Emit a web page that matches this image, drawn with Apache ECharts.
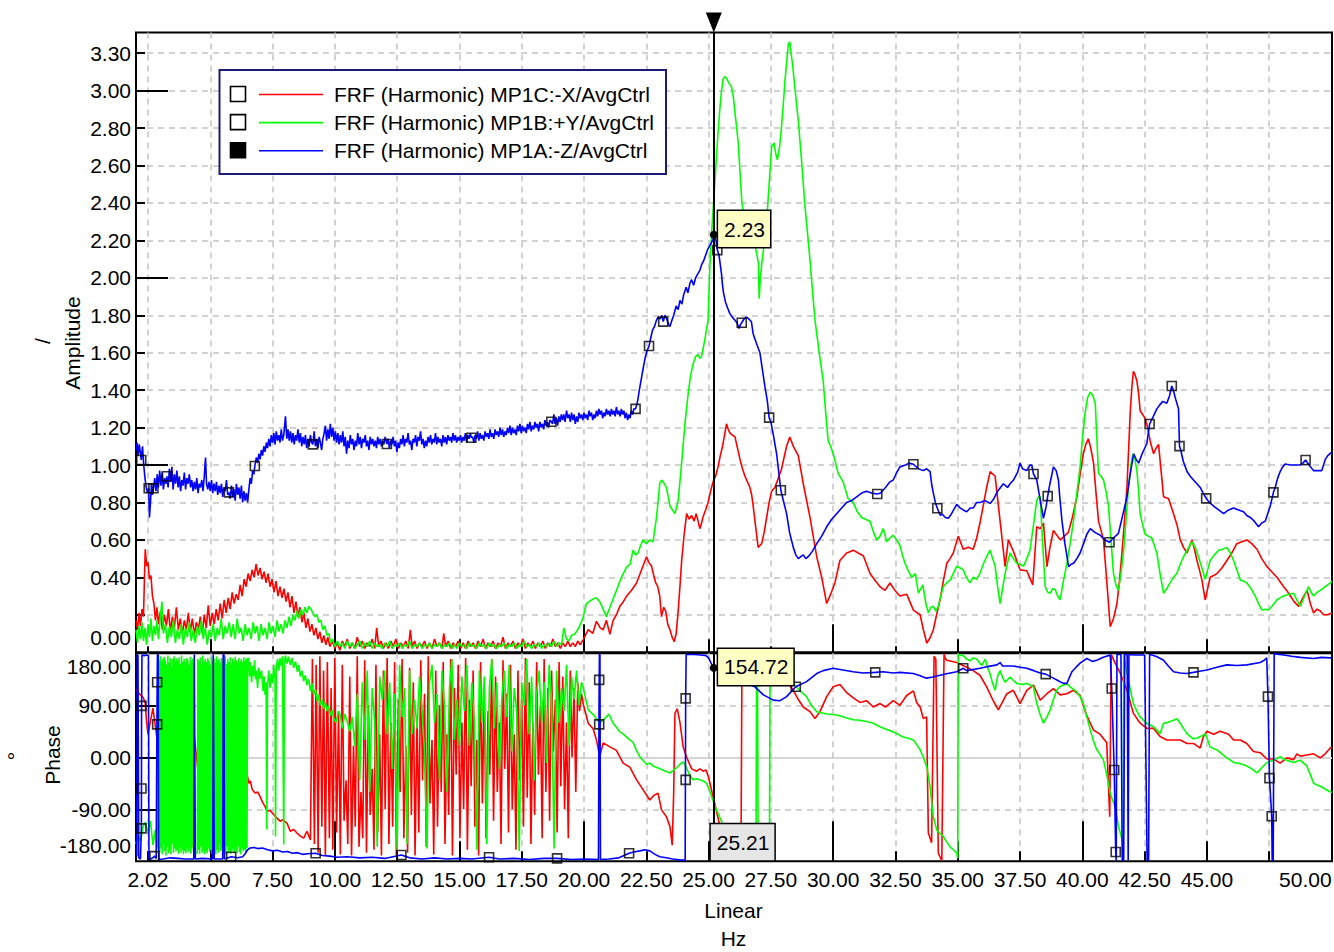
<!DOCTYPE html>
<html><head><meta charset="utf-8">
<script src="https://cdn.jsdelivr.net/npm/echarts@6/dist/echarts.min.js"></script>
<style>html,body{margin:0;padding:0;background:#fff}#c{width:1334px;height:952px}</style>
</head><body><div id="c"></div>
<script>
// ---------------- DATA ----------------
const seriesNames = ['FRF (Harmonic) MP1C:-X/AvgCtrl','FRF (Harmonic) MP1B:+Y/AvgCtrl','FRF (Harmonic) MP1A:-Z/AvgCtrl'];
const seriesColors = ['#ff0000','#00ff00','#0000ff'];

// Amplitude, MP1C (red)  [Hz, amplitude]
const ampMP1C = [[2.02,0.17],[2.08,0.12],[2.14,0.21],[2.2,0.14],[2.26,0.23],[2.32,0.19],[2.39,0.55],[2.45,0.46],[2.5,0.48],[2.56,0.39],[2.62,0.41],[2.68,0.30],[2.74,0.26],[2.8,0.17],[2.86,0.24],[2.92,0.15],[3.0,0.22],[3.08,0.12],[3.16,0.20],[3.24,0.14],[3.32,0.23],[3.4,0.11],[3.48,0.19],[3.56,0.13],[3.64,0.24],[3.72,0.12],[3.8,0.18],[3.88,0.10],[3.96,0.17],[4.04,0.12],[4.12,0.21],[4.2,0.11],[4.28,0.18],[4.36,0.09],[4.44,0.16],[4.52,0.12],[4.6,0.19],[4.68,0.10],[4.76,0.20],[4.84,0.13],[4.92,0.25],[5.0,0.14],[5.08,0.21],[5.16,0.15],[5.24,0.23],[5.32,0.17],[5.4,0.26],[5.48,0.18],[5.56,0.28],[5.64,0.21],[5.72,0.29],[5.8,0.23],[5.88,0.32],[5.96,0.26],[6.04,0.31],[6.12,0.28],[6.2,0.36],[6.28,0.30],[6.36,0.39],[6.44,0.35],[6.52,0.42],[6.6,0.38],[6.68,0.44],[6.76,0.40],[6.84,0.47],[6.92,0.41],[7.0,0.45],[7.08,0.39],[7.16,0.43],[7.24,0.37],[7.32,0.42],[7.4,0.35],[7.48,0.39],[7.56,0.32],[7.64,0.38],[7.72,0.30],[7.8,0.35],[7.88,0.29],[7.96,0.34],[8.04,0.27],[8.12,0.32],[8.2,0.24],[8.28,0.30],[8.36,0.21],[8.44,0.27],[8.52,0.19],[8.6,0.24],[8.68,0.16],[8.76,0.21],[8.84,0.13],[8.92,0.18],[9.0,0.11],[9.08,0.15],[9.16,0.09],[9.24,0.13],[9.32,0.07],[9.4,0.11],[9.48,0.05],[9.56,0.09],[9.64,0.04],[9.72,0.08],[9.8,0.03],[9.9,0.06],[10.0,0.02],[10.1,0.05],[10.2,0.01],[10.3,0.06],[10.4,0.03],[10.5,0.07],[10.6,0.02],[10.7,0.05],[10.8,0.02],[10.9,0.08],[11.0,0.03],[11.1,0.06],[11.2,0.02],[11.3,0.05],[11.4,0.03],[11.5,0.07],[11.6,0.02],[11.68,0.13],[11.76,0.03],[11.85,0.06],[11.95,0.02],[12.05,0.05],[12.15,0.02],[12.25,0.06],[12.35,0.03],[12.45,0.07],[12.55,0.02],[12.65,0.05],[12.75,0.03],[12.85,0.06],[12.95,0.02],[13.03,0.12],[13.1,0.03],[13.2,0.06],[13.3,0.02],[13.4,0.05],[13.5,0.03],[13.6,0.06],[13.7,0.02],[13.8,0.05],[13.9,0.02],[14.0,0.07],[14.1,0.03],[14.2,0.05],[14.3,0.02],[14.37,0.10],[14.45,0.03],[14.55,0.06],[14.65,0.02],[14.75,0.05],[14.85,0.03],[14.95,0.06],[15.05,0.02],[15.15,0.05],[15.25,0.02],[15.35,0.06],[15.45,0.03],[15.55,0.05],[15.65,0.02],[15.75,0.06],[15.85,0.03],[15.95,0.07],[16.05,0.02],[16.15,0.05],[16.25,0.03],[16.35,0.06],[16.45,0.02],[16.55,0.05],[16.65,0.03],[16.75,0.08],[16.85,0.02],[16.95,0.05],[17.05,0.03],[17.15,0.06],[17.25,0.02],[17.35,0.05],[17.45,0.03],[17.55,0.07],[17.65,0.02],[17.75,0.05],[17.85,0.03],[17.95,0.06],[18.05,0.02],[18.15,0.05],[18.25,0.03],[18.35,0.06],[18.45,0.02],[18.55,0.05],[18.65,0.03],[18.75,0.07],[18.85,0.03],[18.95,0.05],[19.05,0.02],[19.15,0.05],[19.25,0.03],[19.35,0.06],[19.45,0.03],[19.55,0.05],[19.65,0.03],[19.75,0.06],[19.85,0.04],[19.96,0.065],[20.17,0.12],[20.35,0.10],[20.5,0.165],[20.65,0.13],[20.77,0.12],[20.9,0.17],[21.04,0.095],[21.17,0.17],[21.3,0.20],[21.44,0.245],[21.58,0.27],[21.71,0.30],[21.9,0.33],[22.11,0.37],[22.31,0.44],[22.51,0.51],[22.6,0.48],[22.71,0.46],[22.8,0.41],[22.88,0.37],[22.96,0.35],[23.04,0.30],[23.11,0.19],[23.2,0.24],[23.28,0.22],[23.36,0.15],[23.45,0.12],[23.54,0.08],[23.62,0.056],[23.7,0.10],[23.78,0.22],[23.85,0.35],[23.92,0.49],[24.02,0.63],[24.12,0.74],[24.22,0.71],[24.32,0.73],[24.42,0.70],[24.5,0.74],[24.58,0.70],[24.65,0.66],[24.72,0.69],[24.77,0.72],[24.88,0.76],[24.98,0.80],[25.08,0.86],[25.18,0.91],[25.28,0.94],[25.38,0.99],[25.47,1.05],[25.56,1.10],[25.64,1.16],[25.72,1.22],[25.79,1.19],[25.86,1.17],[25.96,1.16],[26.06,1.15],[26.16,1.09],[26.26,1.03],[26.36,0.98],[26.46,0.94],[26.56,0.91],[26.66,0.88],[26.73,0.84],[26.79,0.78],[26.89,0.67],[26.99,0.56],[27.06,0.57],[27.13,0.58],[27.23,0.64],[27.33,0.72],[27.43,0.80],[27.53,0.86],[27.66,0.88],[27.8,0.93],[27.93,0.98],[28.03,1.04],[28.13,1.10],[28.26,1.15],[28.4,1.10],[28.6,1.05],[28.8,0.90],[29.07,0.72],[29.34,0.51],[29.54,0.40],[29.74,0.26],[29.9,0.31],[30.07,0.37],[30.27,0.49],[30.54,0.53],[30.81,0.545],[31.0,0.53],[31.21,0.515],[31.48,0.42],[31.7,0.38],[31.88,0.35],[32.08,0.33],[32.28,0.37],[32.48,0.33],[32.68,0.30],[32.95,0.31],[33.22,0.225],[33.49,0.20],[33.62,0.12],[33.76,0.048],[33.9,0.08],[34.02,0.12],[34.15,0.20],[34.29,0.28],[34.42,0.38],[34.56,0.475],[34.69,0.50],[34.82,0.53],[35.02,0.62],[35.22,0.55],[35.42,0.56],[35.62,0.55],[35.76,0.61],[35.89,0.69],[36.02,0.78],[36.16,0.88],[36.3,0.965],[36.5,0.94],[36.6,0.82],[36.7,0.70],[36.8,0.58],[36.9,0.457],[37.03,0.60],[37.23,0.54],[37.5,0.44],[37.77,0.435],[38.01,0.36],[38.17,0.67],[38.31,0.66],[38.44,0.69],[38.58,0.457],[38.7,0.56],[38.84,0.65],[39.11,0.60],[39.28,0.62],[39.44,0.64],[39.6,0.72],[39.78,0.83],[39.91,0.95],[40.04,1.06],[40.14,1.11],[40.24,1.14],[40.34,1.09],[40.45,1.01],[40.55,0.85],[40.65,0.70],[40.85,0.60],[40.98,0.38],[41.12,0.136],[41.25,0.18],[41.39,0.26],[41.49,0.38],[41.59,0.53],[41.69,0.70],[41.79,0.88],[41.85,1.06],[41.92,1.276],[41.99,1.42],[42.05,1.50],[42.12,1.48],[42.19,1.45],[42.26,1.38],[42.32,1.29],[42.42,1.27],[42.52,1.25],[42.62,1.20],[42.72,1.13],[42.86,1.06],[42.96,1.09],[43.06,1.11],[43.16,0.97],[43.26,0.83],[43.46,0.82],[43.66,0.74],[43.8,0.68],[43.93,0.60],[44.06,0.56],[44.2,0.53],[44.4,0.60],[44.5,0.55],[44.6,0.49],[44.7,0.44],[44.8,0.385],[44.93,0.28],[45.03,0.34],[45.13,0.40],[45.27,0.41],[45.4,0.42],[45.6,0.45],[45.8,0.49],[46.0,0.53],[46.2,0.58],[46.4,0.59],[46.6,0.60],[46.8,0.58],[47.01,0.55],[47.2,0.50],[47.41,0.457],[47.6,0.43],[47.81,0.40],[48.08,0.35],[48.2,0.33],[48.35,0.30],[48.5,0.27],[48.68,0.245],[48.85,0.29],[49.02,0.33],[49.15,0.26],[49.28,0.21],[49.42,0.23],[49.55,0.22],[49.68,0.20],[49.82,0.20],[50.02,0.21]];

// Amplitude, MP1B (green)
const ampMP1B = [[2.02,0.12],[2.08,0.05],[2.14,0.14],[2.2,0.07],[2.26,0.16],[2.32,0.06],[2.38,0.13],[2.44,0.04],[2.5,0.15],[2.56,0.08],[2.62,0.18],[2.68,0.06],[2.74,0.14],[2.8,0.09],[2.86,0.17],[2.92,0.07],[3.0,0.19],[3.06,0.27],[3.12,0.10],[3.2,0.15],[3.28,0.05],[3.36,0.14],[3.44,0.08],[3.52,0.17],[3.6,0.05],[3.68,0.12],[3.76,0.07],[3.84,0.15],[3.92,0.04],[4.0,0.13],[4.08,0.08],[4.16,0.16],[4.24,0.06],[4.32,0.12],[4.4,0.05],[4.48,0.14],[4.56,0.09],[4.64,0.17],[4.72,0.07],[4.8,0.13],[4.88,0.04],[4.96,0.12],[5.04,0.08],[5.12,0.15],[5.2,0.06],[5.28,0.13],[5.36,0.09],[5.44,0.18],[5.52,0.07],[5.6,0.14],[5.68,0.10],[5.76,0.16],[5.84,0.08],[5.92,0.15],[6.0,0.07],[6.08,0.18],[6.16,0.10],[6.24,0.13],[6.32,0.06],[6.4,0.15],[6.48,0.09],[6.56,0.13],[6.64,0.07],[6.72,0.16],[6.8,0.10],[6.88,0.14],[6.96,0.06],[7.04,0.15],[7.12,0.09],[7.2,0.13],[7.28,0.07],[7.36,0.16],[7.44,0.10],[7.52,0.14],[7.6,0.08],[7.68,0.17],[7.76,0.11],[7.84,0.15],[7.92,0.10],[8.0,0.17],[8.08,0.13],[8.16,0.19],[8.24,0.14],[8.32,0.20],[8.4,0.17],[8.48,0.22],[8.56,0.18],[8.64,0.23],[8.72,0.20],[8.8,0.24],[8.88,0.21],[8.96,0.245],[9.04,0.23],[9.12,0.21],[9.2,0.19],[9.28,0.20],[9.36,0.16],[9.44,0.17],[9.52,0.12],[9.6,0.14],[9.68,0.09],[9.76,0.10],[9.84,0.05],[9.92,0.07],[10.0,0.03],[10.1,0.06],[10.2,0.03],[10.3,0.05],[10.4,0.02],[10.5,0.06],[10.6,0.03],[10.7,0.05],[10.8,0.02],[10.9,0.04],[11.0,0.06],[11.1,0.02],[11.2,0.05],[11.3,0.03],[11.4,0.06],[11.5,0.02],[11.6,0.05],[11.7,0.03],[11.8,0.04],[11.9,0.02],[12.0,0.05],[12.1,0.03],[12.2,0.06],[12.3,0.02],[12.4,0.04],[12.5,0.03],[12.6,0.05],[12.7,0.02],[12.8,0.04],[12.9,0.03],[13.0,0.06],[13.1,0.02],[13.2,0.04],[13.3,0.03],[13.4,0.05],[13.5,0.02],[13.6,0.04],[13.7,0.03],[13.8,0.05],[13.9,0.02],[14.0,0.04],[14.1,0.03],[14.2,0.05],[14.3,0.02],[14.4,0.04],[14.5,0.03],[14.6,0.05],[14.7,0.02],[14.8,0.04],[14.9,0.02],[15.0,0.05],[15.1,0.03],[15.2,0.04],[15.3,0.02],[15.4,0.05],[15.5,0.03],[15.6,0.04],[15.7,0.02],[15.8,0.05],[15.9,0.03],[16.0,0.04],[16.1,0.02],[16.2,0.05],[16.3,0.03],[16.4,0.04],[16.5,0.02],[16.6,0.04],[16.7,0.03],[16.8,0.05],[16.9,0.02],[17.0,0.04],[17.1,0.03],[17.2,0.05],[17.3,0.02],[17.4,0.04],[17.5,0.03],[17.6,0.06],[17.7,0.03],[17.8,0.04],[17.9,0.02],[18.0,0.04],[18.1,0.03],[18.2,0.05],[18.3,0.02],[18.4,0.04],[18.5,0.03],[18.6,0.05],[18.7,0.03],[18.8,0.06],[18.9,0.03],[19.0,0.05],[19.1,0.04],[19.19,0.13],[19.3,0.07],[19.4,0.06],[19.5,0.09],[19.6,0.095],[19.7,0.11],[19.83,0.14],[19.95,0.18],[20.1,0.26],[20.2,0.27],[20.37,0.285],[20.5,0.29],[20.63,0.27],[20.77,0.23],[20.9,0.19],[21.04,0.24],[21.17,0.285],[21.3,0.33],[21.5,0.40],[21.71,0.455],[21.85,0.47],[21.97,0.545],[22.07,0.52],[22.17,0.53],[22.27,0.57],[22.37,0.60],[22.5,0.58],[22.64,0.60],[22.77,0.59],[22.91,0.72],[23.04,0.90],[23.11,0.92],[23.18,0.91],[23.31,0.88],[23.45,0.78],[23.55,0.76],[23.65,0.74],[23.78,0.81],[23.92,1.01],[24.05,1.22],[24.18,1.38],[24.28,1.48],[24.38,1.54],[24.48,1.58],[24.58,1.59],[24.65,1.57],[24.72,1.58],[24.85,1.67],[24.98,1.775],[25.05,2.06],[25.15,2.30],[25.25,2.505],[25.35,2.72],[25.45,2.90],[25.52,3.00],[25.59,3.065],[25.66,3.075],[25.72,3.065],[25.82,3.04],[25.92,3.02],[26.0,2.96],[26.06,2.88],[26.13,2.80],[26.19,2.72],[26.26,2.57],[26.33,2.415],[26.46,2.27],[26.6,2.16],[26.7,2.20],[26.79,2.24],[26.9,2.15],[27.0,2.08],[27.03,1.89],[27.08,2.0],[27.13,2.07],[27.23,2.18],[27.33,2.30],[27.43,2.50],[27.53,2.70],[27.63,2.72],[27.7,2.66],[27.76,2.63],[27.85,2.70],[27.93,2.81],[28.0,2.93],[28.07,3.06],[28.14,3.16],[28.2,3.25],[28.26,3.26],[28.31,3.20],[28.37,3.14],[28.46,3.02],[28.6,2.84],[28.73,2.63],[28.87,2.38],[28.97,2.24],[29.07,2.095],[29.17,1.93],[29.27,1.775],[29.43,1.61],[29.6,1.45],[29.7,1.28],[29.8,1.13],[29.9,1.10],[30.0,1.06],[30.1,1.01],[30.2,0.955],[30.4,0.91],[30.6,0.82],[30.8,0.80],[30.97,0.75],[31.14,0.72],[31.3,0.71],[31.48,0.70],[31.62,0.64],[31.75,0.60],[31.88,0.62],[32.01,0.66],[32.15,0.59],[32.28,0.61],[32.41,0.625],[32.55,0.60],[32.68,0.57],[32.78,0.52],[32.88,0.475],[33.0,0.44],[33.15,0.40],[33.3,0.42],[33.42,0.315],[33.52,0.34],[33.6,0.36],[33.72,0.26],[33.82,0.21],[33.92,0.24],[34.02,0.245],[34.12,0.22],[34.22,0.245],[34.32,0.30],[34.42,0.35],[34.55,0.37],[34.69,0.385],[34.82,0.42],[34.96,0.46],[35.1,0.45],[35.22,0.44],[35.35,0.40],[35.49,0.37],[35.62,0.40],[35.76,0.39],[35.89,0.42],[36.02,0.47],[36.16,0.51],[36.3,0.545],[36.4,0.50],[36.5,0.46],[36.6,0.35],[36.7,0.26],[36.8,0.34],[36.9,0.42],[37.0,0.48],[37.1,0.53],[37.23,0.50],[37.37,0.475],[37.5,0.47],[37.64,0.46],[37.77,0.50],[37.9,0.545],[38.04,0.68],[38.17,0.81],[38.24,0.83],[38.31,0.83],[38.4,0.60],[38.51,0.35],[38.61,0.32],[38.71,0.315],[38.81,0.34],[38.91,0.335],[39.01,0.30],[39.11,0.28],[39.24,0.38],[39.38,0.475],[39.51,0.58],[39.65,0.706],[39.78,0.85],[39.91,0.99],[40.01,1.15],[40.11,1.276],[40.21,1.36],[40.32,1.39],[40.42,1.37],[40.52,1.33],[40.58,1.15],[40.65,0.955],[40.75,0.94],[40.85,0.92],[40.95,0.86],[41.05,0.78],[41.15,0.60],[41.25,0.42],[41.35,0.36],[41.45,0.33],[41.55,0.42],[41.65,0.53],[41.75,0.70],[41.85,0.88],[41.95,1.00],[42.03,1.06],[42.11,1.03],[42.19,0.97],[42.26,0.86],[42.32,0.74],[42.42,0.68],[42.52,0.63],[42.65,0.62],[42.79,0.61],[42.89,0.57],[42.99,0.53],[43.12,0.42],[43.26,0.315],[43.39,0.34],[43.52,0.37],[43.66,0.40],[43.79,0.42],[43.93,0.47],[44.06,0.51],[44.23,0.55],[44.4,0.59],[44.53,0.56],[44.66,0.51],[44.8,0.45],[44.93,0.39],[45.03,0.44],[45.13,0.49],[45.3,0.52],[45.47,0.545],[45.63,0.55],[45.8,0.56],[45.94,0.53],[46.07,0.49],[46.2,0.44],[46.34,0.385],[46.47,0.38],[46.6,0.37],[46.77,0.34],[46.94,0.30],[47.07,0.26],[47.21,0.225],[47.34,0.23],[47.47,0.225],[47.64,0.25],[47.81,0.28],[47.94,0.29],[48.08,0.30],[48.28,0.31],[48.48,0.315],[48.61,0.28],[48.75,0.245],[48.92,0.30],[49.08,0.35],[49.18,0.32],[49.28,0.30],[49.42,0.32],[49.55,0.33],[49.75,0.35],[49.95,0.37],[50.02,0.38]];

// Amplitude, MP1A (blue)
const ampMP1A = [[2.02,1.08],[2.06,1.12],[2.1,1.05],[2.15,1.11],[2.2,1.06],[2.23,1.027],[2.28,1.10],[2.33,1.00],[2.38,0.93],[2.43,0.88],[2.48,0.85],[2.53,0.876],[2.56,0.72],[2.6,0.80],[2.64,0.90],[2.68,0.84],[2.72,0.876],[2.77,0.93],[2.82,0.86],[2.87,0.95],[2.92,0.88],[2.97,0.97],[3.02,0.89],[3.07,0.96],[3.12,0.87],[3.17,0.93],[3.22,0.90],[3.26,0.94],[3.31,0.88],[3.36,0.98],[3.41,0.91],[3.46,0.99],[3.51,0.87],[3.56,0.95],[3.61,0.90],[3.66,0.97],[3.71,0.88],[3.76,0.94],[3.81,0.86],[3.86,0.92],[3.91,0.89],[3.96,0.96],[4.01,0.87],[4.06,0.93],[4.11,0.90],[4.16,0.95],[4.21,0.88],[4.26,0.92],[4.31,0.86],[4.36,0.91],[4.41,0.87],[4.46,0.93],[4.51,0.85],[4.56,0.90],[4.61,0.88],[4.66,0.92],[4.71,0.86],[4.76,0.94],[4.81,1.04],[4.85,0.90],[4.9,0.87],[4.95,0.91],[5.0,0.86],[5.05,0.92],[5.1,0.85],[5.15,0.90],[5.2,0.86],[5.25,0.91],[5.3,0.84],[5.35,0.89],[5.4,0.85],[5.45,0.90],[5.5,0.83],[5.55,0.88],[5.6,0.86],[5.65,0.92],[5.7,0.84],[5.75,0.854],[5.8,0.82],[5.85,0.89],[5.9,0.83],[5.95,0.87],[6.0,0.81],[6.05,0.90],[6.1,0.84],[6.15,0.88],[6.2,0.82],[6.25,0.89],[6.3,0.80],[6.35,0.86],[6.4,0.81],[6.45,0.85],[6.5,0.80],[6.55,0.87],[6.6,0.93],[6.65,0.90],[6.7,0.97],[6.75,0.95],[6.79,0.995],[6.85,1.04],[6.9,1.01],[6.95,1.06],[7.0,1.03],[7.05,1.08],[7.1,1.05],[7.15,1.10],[7.2,1.07],[7.25,1.12],[7.3,1.09],[7.35,1.14],[7.4,1.10],[7.45,1.16],[7.5,1.12],[7.55,1.17],[7.6,1.11],[7.65,1.18],[7.7,1.13],[7.75,1.16],[7.8,1.12],[7.85,1.19],[7.9,1.13],[7.95,1.16],[8.02,1.26],[8.07,1.14],[8.12,1.19],[8.17,1.13],[8.22,1.18],[8.27,1.12],[8.32,1.17],[8.37,1.11],[8.42,1.16],[8.47,1.13],[8.52,1.19],[8.57,1.12],[8.62,1.17],[8.67,1.10],[8.72,1.15],[8.77,1.11],[8.82,1.16],[8.87,1.09],[8.92,1.14],[8.97,1.10],[9.02,1.16],[9.07,1.12],[9.12,1.11],[9.17,1.18],[9.22,1.10],[9.27,1.14],[9.32,1.09],[9.37,1.15],[9.42,1.12],[9.47,1.08],[9.52,1.14],[9.57,1.17],[9.62,1.21],[9.67,1.13],[9.72,1.19],[9.77,1.14],[9.82,1.22],[9.87,1.15],[9.92,1.20],[9.97,1.13],[10.02,1.18],[10.07,1.12],[10.12,1.17],[10.17,1.11],[10.22,1.16],[10.27,1.12],[10.32,1.18],[10.37,1.10],[10.42,1.15],[10.47,1.06],[10.52,1.13],[10.57,1.09],[10.62,1.16],[10.67,1.11],[10.72,1.14],[10.77,1.08],[10.82,1.13],[10.87,1.10],[10.92,1.17],[10.97,1.11],[11.02,1.15],[11.07,1.09],[11.12,1.14],[11.17,1.12],[11.22,1.16],[11.27,1.10],[11.32,1.13],[11.37,1.08],[11.42,1.15],[11.47,1.11],[11.52,1.14],[11.57,1.10],[11.62,1.13],[11.67,1.09],[11.72,1.15],[11.77,1.11],[11.82,1.14],[11.87,1.10],[11.92,1.13],[11.97,1.11],[12.02,1.15],[12.09,1.112],[12.14,1.14],[12.19,1.09],[12.24,1.13],[12.29,1.11],[12.34,1.15],[12.39,1.10],[12.44,1.13],[12.49,1.07],[12.54,1.12],[12.59,1.09],[12.64,1.14],[12.69,1.11],[12.74,1.16],[12.79,1.10],[12.84,1.14],[12.89,1.12],[12.94,1.17],[12.99,1.11],[13.04,1.13],[13.09,1.08],[13.14,1.14],[13.19,1.12],[13.24,1.16],[13.29,1.10],[13.34,1.15],[13.39,1.13],[13.44,1.18],[13.49,1.11],[13.54,1.14],[13.59,1.09],[13.64,1.13],[13.69,1.10],[13.74,1.15],[13.79,1.12],[13.84,1.16],[13.89,1.11],[13.94,1.14],[13.99,1.12],[14.04,1.17],[14.09,1.11],[14.14,1.15],[14.19,1.12],[14.24,1.14],[14.29,1.10],[14.34,1.16],[14.39,1.12],[14.44,1.15],[14.49,1.11],[14.54,1.16],[14.59,1.13],[14.64,1.15],[14.69,1.12],[14.74,1.17],[14.79,1.13],[14.84,1.16],[14.89,1.12],[14.94,1.15],[14.99,1.13],[15.04,1.16],[15.09,1.12],[15.14,1.15],[15.19,1.13],[15.24,1.17],[15.29,1.12],[15.34,1.16],[15.39,1.14],[15.44,1.17],[15.48,1.146],[15.53,1.15],[15.58,1.12],[15.63,1.16],[15.68,1.14],[15.73,1.18],[15.78,1.13],[15.83,1.17],[15.88,1.14],[15.93,1.16],[15.98,1.13],[16.03,1.18],[16.08,1.15],[16.13,1.17],[16.18,1.14],[16.23,1.19],[16.28,1.15],[16.33,1.17],[16.38,1.14],[16.43,1.19],[16.48,1.16],[16.53,1.18],[16.58,1.15],[16.63,1.20],[16.68,1.16],[16.73,1.19],[16.78,1.15],[16.83,1.18],[16.88,1.16],[16.93,1.20],[16.98,1.17],[17.03,1.21],[17.08,1.16],[17.13,1.20],[17.18,1.17],[17.23,1.19],[17.28,1.16],[17.33,1.21],[17.38,1.18],[17.43,1.22],[17.48,1.17],[17.53,1.21],[17.58,1.18],[17.63,1.20],[17.68,1.17],[17.73,1.22],[17.78,1.19],[17.83,1.23],[17.88,1.18],[17.93,1.21],[17.98,1.19],[18.03,1.23],[18.08,1.20],[18.13,1.22],[18.18,1.18],[18.23,1.23],[18.28,1.20],[18.33,1.22],[18.38,1.19],[18.43,1.24],[18.48,1.21],[18.53,1.23],[18.58,1.20],[18.63,1.24],[18.69,1.231],[18.74,1.22],[18.79,1.27],[18.84,1.22],[18.89,1.25],[18.94,1.21],[18.99,1.26],[19.04,1.23],[19.09,1.27],[19.14,1.24],[19.19,1.27],[19.24,1.23],[19.3,1.29],[19.35,1.25],[19.4,1.27],[19.45,1.23],[19.5,1.28],[19.55,1.24],[19.6,1.27],[19.65,1.22],[19.7,1.26],[19.75,1.23],[19.8,1.28],[19.85,1.25],[19.9,1.27],[19.95,1.24],[20.0,1.28],[20.05,1.25],[20.1,1.27],[20.15,1.24],[20.2,1.29],[20.25,1.26],[20.3,1.28],[20.35,1.24],[20.4,1.27],[20.45,1.25],[20.5,1.29],[20.55,1.26],[20.6,1.30],[20.65,1.27],[20.7,1.29],[20.75,1.25],[20.8,1.28],[20.85,1.26],[20.9,1.30],[20.95,1.27],[21.0,1.29],[21.05,1.26],[21.1,1.30],[21.15,1.27],[21.2,1.29],[21.25,1.26],[21.3,1.31],[21.35,1.27],[21.4,1.29],[21.45,1.26],[21.5,1.30],[21.55,1.27],[21.6,1.29],[21.65,1.25],[21.7,1.28],[21.75,1.24],[21.8,1.27],[21.85,1.25],[21.9,1.29],[21.95,1.27],[22.0,1.30],[22.07,1.30],[22.15,1.34],[22.22,1.40],[22.3,1.46],[22.38,1.52],[22.45,1.57],[22.53,1.61],[22.61,1.636],[22.68,1.68],[22.75,1.72],[22.83,1.74],[22.9,1.77],[22.97,1.79],[23.05,1.78],[23.12,1.80],[23.18,1.766],[23.25,1.80],[23.32,1.78],[23.4,1.75],[23.45,1.74],[23.52,1.77],[23.6,1.80],[23.7,1.85],[23.78,1.83],[23.85,1.88],[23.93,1.86],[24.0,1.91],[24.1,1.95],[24.17,1.92],[24.25,1.97],[24.32,1.99],[24.4,1.96],[24.48,2.00],[24.56,2.02],[24.65,2.04],[24.72,2.07],[24.8,2.09],[24.88,2.12],[24.96,2.15],[25.04,2.17],[25.12,2.19],[25.2,2.21],[25.25,2.22],[25.3,2.20],[25.35,2.148],[25.42,2.12],[25.48,2.06],[25.52,2.02],[25.56,1.96],[25.6,1.92],[25.68,1.87],[25.76,1.84],[25.85,1.81],[25.95,1.79],[26.05,1.775],[26.14,1.76],[26.22,1.73],[26.28,1.75],[26.33,1.76],[26.42,1.78],[26.52,1.79],[26.62,1.78],[26.72,1.765],[26.79,1.70],[26.92,1.65],[27.06,1.60],[27.16,1.51],[27.26,1.42],[27.36,1.34],[27.43,1.253],[27.5,1.23],[27.6,1.16],[27.73,1.06],[27.9,0.865],[28.02,0.80],[28.13,0.74],[28.25,0.64],[28.4,0.56],[28.5,0.52],[28.6,0.50],[28.7,0.51],[28.8,0.52],[28.9,0.50],[29.0,0.51],[29.17,0.54],[29.34,0.58],[29.54,0.62],[29.74,0.67],[29.94,0.71],[30.14,0.74],[30.34,0.77],[30.54,0.80],[30.74,0.81],[30.94,0.83],[31.14,0.85],[31.34,0.86],[31.54,0.85],[31.77,0.845],[31.9,0.85],[32.1,0.88],[32.28,0.91],[32.41,0.92],[32.55,0.96],[32.68,0.99],[32.9,1.00],[33.05,1.01],[33.22,1.004],[33.42,0.98],[33.62,0.97],[33.75,0.98],[33.89,0.965],[33.95,0.90],[34.02,0.85],[34.1,0.80],[34.18,0.769],[34.3,0.73],[34.36,0.74],[34.5,0.72],[34.62,0.715],[34.75,0.74],[34.96,0.79],[35.1,0.77],[35.22,0.76],[35.36,0.75],[35.5,0.77],[35.62,0.77],[35.76,0.80],[35.9,0.80],[36.1,0.81],[36.3,0.795],[36.45,0.82],[36.6,0.86],[36.83,0.90],[37.0,0.88],[37.1,0.90],[37.24,0.92],[37.4,0.96],[37.5,1.01],[37.6,0.98],[37.77,0.97],[37.9,1.00],[37.97,1.00],[38.04,0.952],[38.17,0.92],[38.3,0.82],[38.44,0.715],[38.55,0.78],[38.61,0.834],[38.7,0.90],[38.84,0.99],[38.95,0.97],[39.04,0.92],[39.1,0.82],[39.18,0.706],[39.3,0.58],[39.45,0.457],[39.55,0.47],[39.65,0.475],[39.78,0.50],[39.91,0.53],[40.05,0.58],[40.18,0.63],[40.32,0.66],[40.5,0.64],[40.72,0.625],[40.9,0.60],[41.09,0.587],[41.25,0.61],[41.45,0.635],[41.6,0.72],[41.79,0.83],[41.92,0.95],[42.06,1.06],[42.16,1.03],[42.26,1.01],[42.4,1.06],[42.59,1.115],[42.7,1.219],[42.85,1.26],[42.99,1.30],[43.1,1.32],[43.23,1.34],[43.39,1.33],[43.5,1.37],[43.59,1.422],[43.65,1.40],[43.75,1.35],[43.86,1.30],[43.9,1.101],[43.95,1.08],[44.05,1.02],[44.2,0.965],[44.33,0.94],[44.46,0.92],[44.6,0.90],[44.73,0.88],[44.85,0.85],[44.97,0.822],[45.1,0.80],[45.27,0.78],[45.47,0.76],[45.67,0.74],[45.87,0.76],[46.07,0.77],[46.27,0.76],[46.47,0.75],[46.6,0.73],[46.74,0.72],[46.9,0.70],[47.07,0.67],[47.2,0.69],[47.34,0.70],[47.44,0.74],[47.54,0.78],[47.67,0.854],[47.74,0.88],[47.84,0.93],[47.94,0.965],[48.04,0.99],[48.14,1.005],[48.34,1.00],[48.54,1.00],[48.74,1.00],[48.85,1.01],[48.96,1.027],[49.1,1.00],[49.28,0.97],[49.45,0.97],[49.61,0.97],[49.75,1.03],[49.85,1.05],[50.02,1.07]];

// Data-point markers of the MP1A trace
const markAmpMP1A = [[2.23,1.027],[2.53,0.876],[2.72,0.876],[3.26,0.94],[5.75,0.854],[6.79,0.995],[9.12,1.11],[12.09,1.112],[15.48,1.146],[18.69,1.231],[22.07,1.30],[22.61,1.636],[23.18,1.766],[25.35,2.148],[26.33,1.76],[27.43,1.253],[27.9,0.865],[31.77,0.845],[33.22,1.004],[34.18,0.769],[38.04,0.952],[38.61,0.834],[41.09,0.587],[42.7,1.219],[43.59,1.422],[43.9,1.101],[44.97,0.822],[47.67,0.854],[48.96,1.027]];

// Phase, MP1C (red)  [Hz, degrees]
const phaseMP1C = [[2.02,118],[2.1,112],[2.2,108],[2.3,104],[2.39,95],[2.44,63],[2.5,40],[2.7,85],[2.9,20],[3.1,70],[3.3,-10],[3.5,55],[3.7,5],[3.9,80],[4.1,30],[4.3,60],[4.5,-20],[4.7,40],[4.9,10],[5.1,70],[5.3,-10],[5.5,50],[5.7,20],[5.9,60],[6.1,0],[6.3,-20],[6.47,-27],[6.55,-45],[6.61,-41],[6.68,-55],[6.74,-59],[6.82,-62],[6.9,-60],[7.01,-69],[7.1,-78],[7.2,-85],[7.27,-93],[7.4,-92],[7.54,-99],[7.65,-104],[7.81,-111],[7.9,-108],[8.08,-114],[8.21,-128],[8.35,-125],[8.48,-131],[8.6,-136],[8.75,-140],[8.88,-128],[9.02,-143],[9.10,170],[9.18,-150],[9.25,160],[9.33,-165],[9.40,175],[9.48,-120],[9.55,150],[9.62,-170],[9.70,165],[9.78,-140],[9.85,120],[9.92,-160],[10.00,172],[10.07,-130],[10.15,80],[10.22,-168],[10.30,160],[10.37,-110],[10.45,-40],[10.52,-150],[10.60,140],[10.67,-170],[10.75,20],[10.82,-120],[10.90,175],[10.97,-155],[11.05,-60],[11.12,-140],[11.20,168],[11.27,-165],[11.35,90],[11.42,-100],[11.50,-20],[11.57,-160],[11.65,160],[11.72,-130],[11.80,40],[11.87,-170],[11.95,150],[12.02,-90],[12.10,172],[12.17,-150],[12.25,60],[12.32,-120],[12.40,165],[12.47,-172],[12.55,100],[12.62,-60],[12.70,170],[12.77,-140],[12.85,20],[12.92,-165],[13.00,155],[13.07,-100],[13.15,130],[13.22,-170],[13.30,70],[13.37,-130],[13.45,168],[13.52,-40],[13.60,110],[13.67,-155],[13.75,175],[13.82,-80],[13.90,30],[13.97,-168],[14.05,150],[14.12,-120],[14.20,90],[14.27,-60],[14.35,165],[14.42,-150],[14.50,40],[14.57,-100],[14.65,170],[14.72,-170],[14.80,120],[14.87,-30],[14.95,160],[15.02,-140],[15.10,60],[15.17,-90],[15.25,172],[15.32,-160],[15.40,100],[15.47,-50],[15.55,150],[15.62,-120],[15.70,30],[15.77,-170],[15.85,165],[15.92,-80],[16.00,120],[16.07,-140],[16.15,80],[16.22,-30],[16.30,170],[16.37,-110],[16.45,140],[16.52,-60],[16.60,60],[16.67,-150],[16.75,168],[16.82,-20],[16.90,110],[16.97,-130],[17.05,160],[17.12,-90],[17.20,40],[17.27,-160],[17.35,150],[17.42,-40],[17.50,100],[17.57,-120],[17.65,172],[17.72,-70],[17.80,130],[17.87,-150],[17.95,60],[18.02,-100],[18.10,165],[18.17,-30],[18.25,90],[18.32,-140],[18.40,170],[18.47,-60],[18.55,120],[18.62,-110],[18.70,150],[18.77,10],[18.85,100],[18.92,-130],[19.00,165],[19.07,-50],[19.15,140],[19.22,-90],[19.30,60],[19.37,-140],[19.45,150],[19.52,0],[19.60,120],[19.67,-60],[19.75,130],[19.82,80],[19.90,110],[19.96,94],[20.17,59],[20.37,49],[20.5,30],[20.63,1],[20.77,25],[21.04,18],[21.3,12],[21.57,-10],[21.84,-17],[22.11,-39],[22.37,-56],[22.64,-74],[22.8,-66],[22.97,-62],[23.11,-91],[23.31,-103],[23.45,-120],[23.54,-152],[23.6,-60],[23.65,76],[23.74,84],[23.85,61],[23.98,18],[24.12,0],[24.32,-20],[24.52,-24],[24.65,-20],[24.78,-24],[24.9,-22],[25.0,-35],[25.12,-57],[25.3,-90],[25.5,-128],[25.8,-158],[26.1,-174],[26.3,-179],[26.34,178],[26.8,165],[27.3,152],[27.8,140],[28.2,128],[28.4,116],[28.6,100],[28.8,87],[29.07,79],[29.27,67],[29.47,79],[29.74,105],[30.0,122],[30.27,126],[30.54,112],[30.81,103],[31.07,95],[31.34,98],[31.61,87],[31.88,93],[32.1,87],[32.41,98],[32.68,90],[32.95,107],[33.22,115],[33.35,95],[33.49,87],[33.62,67],[33.75,70],[33.82,-131],[33.95,-148],[34.05,175],[34.12,170],[34.22,-166],[34.36,-179],[34.45,179],[34.49,172],[34.56,168],[34.96,164],[35.36,156],[35.62,150],[35.89,142],[36.16,122],[36.4,100],[36.63,82],[36.97,110],[37.23,116],[37.5,93],[37.77,116],[38.04,125],[38.31,99],[38.58,110],[38.84,119],[39.11,108],[39.38,110],[39.64,116],[39.91,107],[40.18,72],[40.45,47],[40.71,40],[40.98,25],[41.1,-103],[41.16,178],[41.35,160],[41.52,146],[41.79,116],[42.05,76],[42.32,59],[42.59,50],[42.86,50],[43.12,36],[43.39,30],[43.66,30],[43.93,30],[44.2,24],[44.46,24],[44.73,16],[44.86,36],[45.0,45],[45.27,40],[45.53,45],[45.87,40],[46.07,30],[46.34,30],[46.6,24],[46.87,10],[47.14,8],[47.41,-3],[47.67,-3],[47.94,-10],[48.21,-1],[48.48,-4],[48.61,6],[48.75,2],[49.01,4],[49.28,6],[49.55,-1],[49.75,6],[49.95,16],[50.02,18]];

// Phase, MP1B (green)
const phaseMP1B = [[2.02,-150],[2.1,-135],[2.2,-145],[2.3,-120],[2.4,-112],[2.5,-132],[2.6,-110],[2.7,-152],[2.8,-125],[2.86,-158],
[2.900,172],[2.925,-160],[2.950,168],[2.975,-165],[3.000,175],[3.025,-158],[3.050,165],[3.075,-168],[3.100,170],[3.125,-150],[3.150,174],[3.175,-162],[3.200,168],[3.225,-170],[3.250,160],[3.275,-155],[3.300,176],[3.325,-166],[3.350,164],[3.375,-160],[3.400,172],[3.425,-168],[3.450,158],[3.475,-150],[3.500,170],[3.525,-165],[3.550,175],[3.575,-158],[3.600,166],[3.625,-163],[3.650,171],[3.675,-160],[3.700,167],[3.725,-167],[3.750,173],[3.775,-155],[3.800,162],[3.825,-165],[3.850,176],[3.875,-160],[3.900,166],[3.925,-168],[3.950,170],[3.975,-162],[4.000,165],[4.025,-166],[4.050,172],[4.075,-158],[4.100,168],[4.125,-164],[4.150,160],[4.175,-160],[4.200,174],[4.225,-167],[4.250,166],[4.275,-156],[4.300,171],[4.325,-163],[4.350,163],[4.375,-168],[4.480,-165],[4.500,170],[4.525,-160],[4.550,168],[4.575,-167],[4.600,173],[4.625,-155],[4.650,162],[4.675,-165],[4.700,176],[4.725,-160],[4.750,166],[4.775,-168],[4.800,170],[4.825,-162],[4.850,165],[4.875,-166],[4.900,172],[4.925,-158],[4.950,168],[4.975,-164],[5.000,160],[5.025,-160],[5.050,174],[5.075,-167],[5.100,166],[5.125,-156],[5.150,171],[5.175,-163],[5.200,163],[5.225,-168],[5.250,175],[5.275,-160],[5.300,167],[5.325,-165],[5.350,170],[5.375,-150],[5.400,164],[5.425,-162],[5.450,172],[5.475,-158],[5.500,170],[5.525,-165],[5.550,168],[5.575,-160],[5.600,175],[5.625,-168],[5.650,162],[5.675,-155],[5.700,170],[5.725,-166],[5.750,165],[5.775,-160],[5.800,173],[5.825,-167],[5.850,160],[5.875,-162],[5.900,171],[5.925,-158],[5.950,166],[5.975,-165],[6.000,174],[6.025,-160],[6.050,168],[6.075,-166],[6.100,163],[6.125,-155],[6.150,172],[6.175,-164],[6.200,167],[6.225,-168],[6.250,170],[6.275,-158],[6.300,165],[6.325,-163],[6.350,173],[6.375,-160],[6.400,168],[6.425,-166],[6.450,171],[6.475,-157],[6.500,170],
[6.54,172],[6.58,140],[6.61,165],[6.66,130],[6.7,158],[6.74,141],[6.78,168],[6.82,135],[6.85,150],[6.9,120],[6.95,155],[7.01,136],[7.06,150],[7.12,115],[7.16,140],[7.2,108],[7.24,130],[7.27,-125],[7.3,125],[7.35,150],[7.4,120],[7.45,145],[7.5,128],[7.55,160],[7.6,135],[7.62,-137],[7.65,155],[7.7,170],[7.75,150],[7.8,172],[7.85,158],[7.9,175],[7.95,-151],[7.98,165],[8.02,176],[8.08,162],[8.14,174],[8.21,160],[8.28,172],[8.35,155],[8.42,166],[8.5,148],[8.56,160],[8.61,140],[8.68,150],[8.75,132],[8.82,142],[8.88,125],[8.95,135],[9.02,115],[9.08,128],[9.15,108],[9.22,118],[9.3,96],[9.36,108],[9.42,90],[9.5,100],[9.55,84],[9.62,95],[9.68,80],[9.75,90],[9.82,72],[9.9,82],[9.95,68],[10.05,60],[10.15,80],[10.22,72],[10.3,50],[10.4,75],[10.49,63],[10.6,45],[10.7,70],[10.8,20],[10.9,110],[11.0,-40],[11.1,130],[11.2,30],[11.3,150],[11.4,-60],[11.5,120],[11.6,60],[11.7,-155],[11.8,140],[11.9,100],[12.0,150],[12.1,40],[12.2,130],[12.3,-20],[12.4,110],[12.5,-160],[12.6,160],[12.7,70],[12.8,120],[12.9,-150],[13.0,150],[13.1,40],[13.2,100],[13.3,50],[13.4,140],[13.5,80],[13.6,10],[13.7,-158],[13.8,130],[13.9,160],[14.0,60],[14.1,110],[14.2,-40],[14.3,150],[14.4,90],[14.5,-60],[14.6,120],[14.7,170],[14.8,30],[14.9,100],[15.0,20],[15.1,140],[15.2,80],[15.3,160],[15.4,20],[15.5,130],[15.6,60],[15.7,-160],[15.8,150],[15.9,60],[16.0,140],[16.1,-150],[16.2,120],[16.3,170],[16.4,50],[16.5,130],[16.6,-20],[16.7,100],[16.8,150],[16.9,70],[17.0,160],[17.1,10],[17.2,120],[17.3,80],[17.4,-162],[17.5,130],[17.6,90],[17.7,170],[17.8,40],[17.9,140],[18.0,-40],[18.1,110],[18.2,150],[18.3,60],[18.4,130],[18.5,-10],[18.6,160],[18.7,100],[18.8,-158],[18.9,150],[19.0,60],[19.1,120],[19.2,80],[19.3,160],[19.4,20],[19.5,140],[19.6,100],[19.7,150],[19.8,90],[19.9,130],[19.96,122],[20.17,82],[20.37,74],[20.63,59],[20.9,70],[21.0,75],[21.17,59],[21.3,52],[21.44,44],[21.58,40],[21.71,35],[21.84,30],[21.97,26],[22.1,12],[22.24,1],[22.38,-6],[22.51,-12],[22.64,-10],[22.77,-15],[22.95,-18],[23.11,-21],[23.28,-24],[23.45,-27],[23.6,-22],[23.72,-18],[23.85,-12],[23.98,-8],[24.08,-15],[24.18,-25],[24.28,-33],[24.38,-39],[24.52,-37],[24.65,-39],[24.78,-41],[24.92,-45],[25.02,-55],[25.12,-68],[25.22,-80],[25.32,-91],[25.42,-101],[25.52,-111],[25.7,-135],[26.0,-155],[26.4,-166],[26.9,-174],[26.93,178],[26.96,177],[26.99,-178],[27.2,-177],[27.44,-178],[27.47,179],[27.8,162],[28.1,146],[28.4,128],[28.65,116],[28.93,105],[29.1,92],[29.34,79],[29.74,75],[30.0,74],[30.27,72],[30.54,68],[30.81,65],[31.07,64],[31.34,62],[31.61,59],[31.88,53],[32.15,48],[32.41,44],[32.61,40],[32.81,35],[33.01,33],[33.22,30],[33.35,22],[33.49,13],[33.62,0],[33.76,-17],[33.89,-51],[33.96,-80],[34.02,-103],[34.16,-126],[34.3,-132],[34.42,-137],[34.55,-146],[34.69,-155],[34.82,-160],[34.96,-166],[35.0,-175],[35.02,178],[35.22,176],[35.36,170],[35.49,167],[35.62,172],[35.76,170],[35.96,159],[36.1,170],[36.2,155],[36.3,144],[36.4,128],[36.5,116],[36.6,140],[36.7,150],[36.8,138],[36.9,130],[37.1,139],[37.25,132],[37.37,128],[37.6,126],[37.77,128],[38.04,122],[38.17,93],[38.3,75],[38.44,59],[38.58,70],[38.71,82],[38.84,100],[38.97,116],[39.1,122],[39.24,125],[39.38,127],[39.51,122],[39.64,118],[39.78,113],[39.91,105],[40.04,93],[40.18,70],[40.32,47],[40.45,28],[40.58,13],[40.71,5],[40.85,-5],[40.98,-30],[41.12,-62],[41.22,-75],[41.32,-85],[41.45,-120],[41.55,-135],[41.6,-143],[41.64,-150],[41.66,178],[41.75,155],[41.85,134],[41.95,112],[42.05,93],[42.19,80],[42.32,70],[42.45,64],[42.59,59],[42.72,56],[42.86,53],[42.99,47],[43.12,41],[43.26,59],[43.39,60],[43.52,62],[43.66,64],[43.79,67],[43.93,59],[44.06,50],[44.2,41],[44.33,36],[44.46,32],[44.6,33],[44.73,36],[44.86,38],[44.93,41],[45.03,30],[45.13,18],[45.27,15],[45.4,13],[45.6,6],[45.8,-1],[45.94,-5],[46.07,-9],[46.2,-10],[46.34,-11],[46.47,-13],[46.6,-15],[46.8,-20],[47.01,-27],[47.2,-18],[47.41,-9],[47.54,-7],[47.67,-5],[47.81,-2],[47.94,1],[48.07,-3],[48.2,-5],[48.34,-7],[48.48,-9],[48.61,-7],[48.75,-5],[48.88,-10],[49.01,-15],[49.15,-30],[49.28,-45],[49.42,-48],[49.55,-50],[49.68,-53],[49.82,-57],[50.02,-61]];

// Phase, MP1A (blue)
const phaseMP1A = [[2.02,-172],[2.05,-170],[2.07,178],[2.1,176],[2.13,-174],[2.2,-176],[2.235,-123],[2.24,-54],[2.245,89],[2.26,177],[2.35,176],[2.45,177],[2.52,176],[2.54,-177],[2.6,-176],[2.7,-174],[2.76,-171],[2.83,-175],[2.86,57],[2.87,130],[2.88,178],[2.91,178],[2.93,-177],[3.1,-176],[3.4,-174],[3.7,-175],[4.0,-176],[4.34,-176],[4.36,178],[4.38,178],[4.4,-176],[4.7,-175],[5.1,-176],[5.12,178],[5.14,178],[5.16,-176],[5.5,-176],[5.52,178],[5.55,178],[5.57,-176],[5.84,-172],[6.1,-174],[6.3,-172],[6.4,-167],[6.5,-160],[6.6,-157],[6.75,-156],[6.9,-158],[7.1,-157],[7.3,-160],[7.5,-162],[7.7,-161],[7.9,-164],[8.1,-163],[8.3,-166],[8.5,-165],[8.7,-168],[8.9,-167],[9.23,-166],[9.5,-170],[9.8,-171],[10.1,-173],[10.5,-172],[11.0,-174],[11.5,-173],[12.0,-175],[12.67,-169],[13.0,-174],[13.5,-176],[14.0,-174],[14.5,-176],[15.0,-175],[15.5,-176],[16.19,-173],[16.6,-176],[17.2,-175],[17.8,-177],[18.4,-175],[18.92,-175],[19.5,-177],[20.0,-176],[20.58,-177],[20.6,57],[20.61,134],[20.62,179],[20.64,178],[20.66,-177],[21.0,-176],[21.4,-174],[21.81,-166],[22.0,-164],[22.24,-162],[22.45,-160],[22.64,-162],[22.85,-168],[23.04,-172],[23.3,-174],[23.56,-176],[23.9,-178],[24.06,-178],[24.07,-39],[24.08,102],[24.1,178],[24.4,178],[24.7,177],[24.9,176],[25.0,172],[25.1,163],[25.21,154.72],[25.4,152],[25.8,141],[26.3,131],[26.86,122],[27.2,108],[27.6,99],[27.87,98],[28.13,105],[28.5,122],[28.93,131],[29.34,145],[29.6,150],[30.0,154],[30.27,152],[30.8,148],[31.2,146],[31.69,147],[32.0,148],[32.41,146],[32.68,147],[33.21,145],[33.5,141],[33.74,137],[34.0,139],[34.29,142],[34.6,145],[34.96,148],[35.22,154],[35.36,150],[35.9,154],[36.2,157],[36.57,160],[36.7,164],[36.8,158],[37.22,158],[37.5,156],[37.77,154],[38.05,150],[38.31,146],[38.53,144],[38.84,137],[39.05,132],[39.24,128],[39.38,128],[39.58,148],[39.75,156],[39.91,163],[40.18,171],[40.4,166],[40.58,168],[40.84,173],[41.12,177],[41.18,119],[41.28,-22],[41.34,-164],[41.36,-178],[41.39,178],[41.55,178],[41.6,-178],[41.66,-178],[41.7,178],[41.8,178],[41.84,-178],[41.87,178],[42.1,177],[42.5,177],[42.6,-178],[42.66,-178],[42.7,178],[42.79,177],[43.0,174],[43.26,168],[43.45,158],[43.66,148],[43.93,146],[44.2,145],[44.46,147],[44.7,149],[45.0,151],[45.4,156],[45.8,160],[46.2,159],[46.6,160],[47.14,164],[47.3,168],[47.4,172],[47.45,105],[47.51,-36],[47.6,-102],[47.62,-178],[47.66,-178],[47.7,179],[47.74,179],[48.08,177],[48.4,175],[48.75,173],[49.28,171],[49.6,173],[49.95,172],[50.02,172]];

const markPhaseMP1A = [[2.24,89],[2.24,-54],[2.24,-123],[2.87,130],[2.87,57],[2.76,-171],[5.84,-172],[9.23,-166],[12.67,-169],[16.19,-173],[18.92,-175],[20.61,134],[20.61,57],[21.81,-166],[24.08,102],[24.08,-39],[28.5,122],[31.69,147],[35.22,154],[38.53,144],[41.18,119],[41.28,-22],[41.34,-164],[44.46,147],[47.45,105],[47.51,-36],[47.6,-102]];

// Cursor
const cursorHz = 25.21, cursorAmp = 2.23, cursorPhase = 154.72;

// Axes: extents, ticks and labels
const xMin = 2.02, xMax = 50.02;
const ampMin = 0, ampMax = 3.31;
const phMin = -180, phMax = 180;
const xGridTicks = [2.5,5,7.5,10,12.5,15,17.5,20,22.5,25,27.5,30,32.5,35,37.5,40,42.5,45,47.5];
const xMidTicks = [5,15,25,35,45];
const xMajorTicks = [10,20,30,40];
const xLabelPos = [2.5,5,7.5,10,12.5,15,17.5,20,22.5,25,27.5,30,32.5,35,37.5,40,42.5,45,48.95];
const xLabelText = ['2.02','5.00','7.50','10.00','12.50','15.00','17.50','20.00','22.50','25.00','27.50','30.00','32.50','35.00','37.50','40.00','42.50','45.00','50.00'];
const ampGridTicks = [0.2,0.4,0.6,0.8,1,1.2,1.4,1.6,1.8,2,2.2,2.4,2.6,2.8,3,3.2];
const ampMajorTicks = [1,2,3];
const ampLabelPos = [0.076,0.4,0.6,0.8,1,1.2,1.4,1.6,1.8,2,2.2,2.4,2.6,2.8,3,3.2];
const ampLabelText = ['0.00','0.40','0.60','0.80','1.00','1.20','1.40','1.60','1.80','2.00','2.20','2.40','2.60','2.80','3.00','3.30'];
const phGridTicks = [-90,90];
const phZeroTicks = [0];
const phLabelPos = [-153,-90,0,90,158];
const phLabelText = ['-180.00','-90.00','0.00','90.00','180.00'];

// ---------------- CHART ----------------
const FONT = '"Liberation Sans", Arial, Helvetica, sans-serif';
const chart = echarts.init(document.getElementById('c'), null, {renderer: 'svg'});

function lookup(pos, text) {
  return function (v) {
    for (let i = 0; i < pos.length; i++) if (Math.abs(pos[i] - v) < 1e-6) return text[i];
    return '';
  };
}
const gridDash = {show: true, lineStyle: {color: '#c4c4c4', type: [6, 5], width: 1.5}};
function xAx(grid, ticks, len, extra) {
  return Object.assign({
    type: 'value', gridIndex: grid, min: xMin, max: xMax, position: 'bottom',
    axisLine: {show: false, onZero: false},
    axisTick: {show: true, inside: true, length: len, customValues: ticks, lineStyle: {color: '#000', width: 2}},
    axisLabel: {show: false}, splitLine: {show: false}
  }, extra || {});
}
function yAx(grid, min, max, ticks, len, extra) {
  return Object.assign({
    type: 'value', gridIndex: grid, min: min, max: max, position: 'left',
    axisLine: {show: false, onZero: false},
    axisTick: {show: true, inside: true, length: len, customValues: ticks, lineStyle: {color: '#000', width: 2}},
    axisLabel: {show: false}, splitLine: {show: false}
  }, extra || {});
}
const labelStyle = {color: '#000', fontSize: 21, fontFamily: FONT};
const boxLabel = function (text, bg, pos) {
  return {show: true, formatter: text, position: pos, color: '#000', fontSize: 21, fontFamily: FONT,
    backgroundColor: bg, borderColor: '#000', borderWidth: 1.5, padding: [6, 5, 6, 6], lineHeight: 24};
};
function lineSeries(data, color, xi, yi, extra) {
  return Object.assign({type: 'line', data: data, xAxisIndex: xi, yAxisIndex: yi, showSymbol: false, symbol: 'none',
    lineStyle: {color: color, width: 1.6}, itemStyle: {color: color}, silent: true, animation: false, z: 2}, extra || {});
}

const legendGraphics = [{type: 'rect', z: 100, shape: {x: 219.5, y: 70, width: 446.5, height: 104}, style: {fill: '#fff', stroke: '#1c1c78', lineWidth: 2}}];
seriesNames.forEach(function (name, i) {
  const yc = 94.5 + i * 28.1;
  legendGraphics.push({type: 'rect', z: 101, shape: {x: 230.5, y: yc - 8, width: 15, height: 15}, style: {fill: i === 2 ? '#000' : '#fff', stroke: '#000', lineWidth: 1.6}});
  legendGraphics.push({type: 'line', z: 101, shape: {x1: 259, y1: yc, x2: 323, y2: yc}, style: {stroke: seriesColors[i], lineWidth: 1.6}});
  legendGraphics.push({type: 'text', z: 101, x: 334, y: yc, style: {text: name, fill: '#000', fontSize: 21, fontFamily: FONT, align: 'left', verticalAlign: 'middle'}});
});
function vText(t, x, y) {
  return {type: 'text', z: 50, x: x, y: y, rotation: Math.PI / 2, style: {text: t, fill: '#000', fontSize: 21, fontFamily: FONT, align: 'center', verticalAlign: 'middle'}};
}
function hText(t, x, y) {
  return {type: 'text', z: 50, x: x, y: y, style: {text: t, fill: '#000', fontSize: 21, fontFamily: FONT, align: 'center', verticalAlign: 'middle'}};
}

const option = {
  animation: false,
  backgroundColor: '#fff',
  textStyle: {fontFamily: FONT},
  grid: [
    {left: 136, top: 32.6, width: 1196, height: 619.6, show: true, borderColor: '#000', borderWidth: 2, backgroundColor: '#fff', outerBoundsMode: 'none', containLabel: false},
    {left: 136, top: 653.3, width: 1196, height: 208, show: true, borderColor: '#000', borderWidth: 2, backgroundColor: '#fff', outerBoundsMode: 'none', containLabel: false}
  ],
  xAxis: [
    xAx(0, xGridTicks, 6, {splitLine: gridDash}),
    xAx(0, xMidTicks, 13),
    xAx(0, xMajorTicks, 28),
    xAx(1, xGridTicks, 10, {splitLine: gridDash, axisLabel: Object.assign({show: true, margin: 8, customValues: xLabelPos, formatter: lookup(xLabelPos, xLabelText)}, labelStyle)}),
    xAx(1, xMidTicks, 20),
    xAx(1, xMajorTicks, 40)
  ],
  yAxis: [
    yAx(0, ampMin, ampMax, ampGridTicks, 9, {splitLine: gridDash, axisLabel: Object.assign({show: true, margin: 5, customValues: ampLabelPos, formatter: lookup(ampLabelPos, ampLabelText)}, labelStyle)}),
    yAx(0, ampMin, ampMax, ampMajorTicks, 32),
    yAx(1, phMin, phMax, phGridTicks, 20, {splitLine: gridDash, axisLabel: Object.assign({show: true, margin: 5, customValues: phLabelPos, formatter: lookup(phLabelPos, phLabelText)}, labelStyle)}),
    yAx(1, phMin, phMax, phZeroTicks, 20, {splitLine: {show: true, lineStyle: {color: '#d6d6d6', type: 'solid', width: 2}}})
  ],
  graphic: legendGraphics.concat([
    vText('Amplitude', 72, 343),
    vText('/', 42, 341),
    vText('Phase', 52, 755),
    vText('°', 15, 756),
    hText('Linear', 733.5, 910.5),
    hText('Hz', 733.5, 938.5)
  ]),
  series: [
    lineSeries(ampMP1C, seriesColors[0], 0, 0),
    lineSeries(ampMP1B, seriesColors[1], 0, 0),
    lineSeries(ampMP1A, seriesColors[2], 0, 0, {
      markLine: {silent: true, symbol: ['none', 'none'], label: {show: false}, animation: false,
        lineStyle: {color: '#000', width: 2, type: 'solid'}, data: [{xAxis: cursorHz}]},
      markPoint: {silent: true, animation: false, data: [
        {coord: [cursorHz, ampMax], symbol: 'triangle', symbolRotate: 180, symbolSize: [16, 20], symbolOffset: [0, -10], itemStyle: {color: '#000'}, label: {show: false}},
        {coord: [cursorHz, cursorAmp], symbol: 'circle', symbolSize: 8, itemStyle: {color: '#000'}, label: boxLabel(cursorAmp.toFixed(2), '#ffffc4', [8.3, -19.7])}
      ]}
    }),
    lineSeries(phaseMP1C, seriesColors[0], 3, 2),
    lineSeries(phaseMP1B, seriesColors[1], 3, 2),
    lineSeries(phaseMP1A, seriesColors[2], 3, 2, {
      markLine: {silent: true, symbol: ['none', 'none'], label: {show: false}, animation: false,
        lineStyle: {color: '#000', width: 2, type: 'solid'}, data: [{xAxis: cursorHz}]},
      markPoint: {silent: true, animation: false, data: [
        {coord: [cursorHz, cursorPhase], symbol: 'circle', symbolSize: 8, itemStyle: {color: '#000'}, label: boxLabel(cursorPhase.toFixed(2), '#ffffc4', [8.3, -15])},
        {coord: [cursorHz, phMin], symbol: 'circle', symbolSize: 1, itemStyle: {color: 'rgba(0,0,0,0)'}, label: boxLabel(cursorHz.toFixed(2), '#e6e6e6', [-2.5, -36.5])}
      ]}
    }),
    {type: 'scatter', data: markAmpMP1A, xAxisIndex: 0, yAxisIndex: 0, symbol: 'rect', symbolSize: 9, silent: true, z: 3,
      itemStyle: {color: 'rgba(0,0,0,0)', borderColor: '#000', borderWidth: 1.6}},
    {type: 'scatter', data: markPhaseMP1A, xAxisIndex: 3, yAxisIndex: 2, symbol: 'rect', symbolSize: 9, silent: true, z: 3,
      itemStyle: {color: 'rgba(0,0,0,0)', borderColor: '#000', borderWidth: 1.6}}
  ]
};
chart.setOption(option);
</script></body></html>
